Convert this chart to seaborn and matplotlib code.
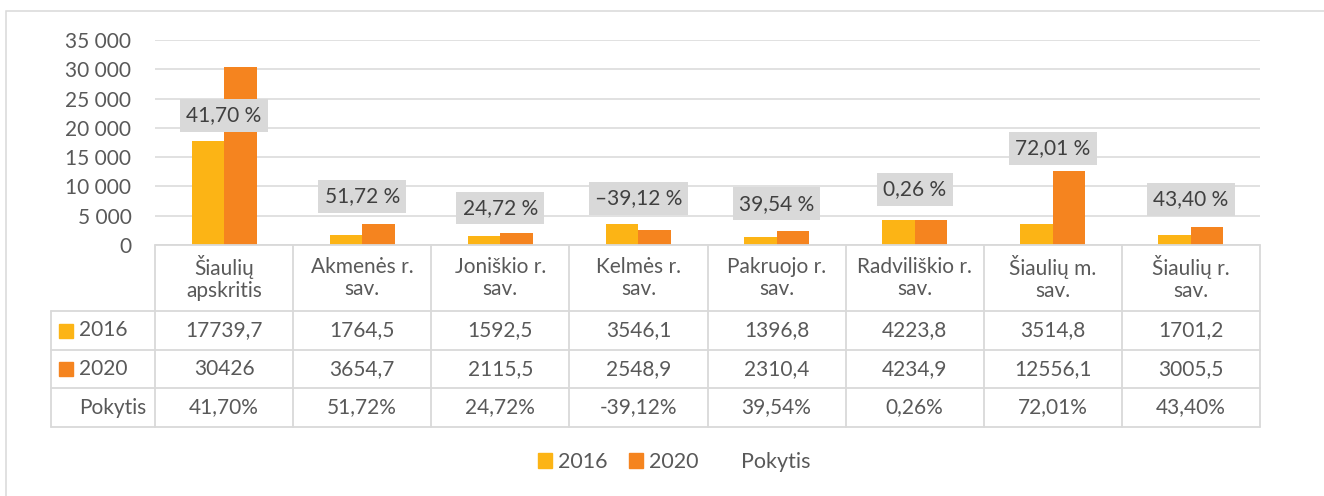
import pandas as pd
import matplotlib.pyplot as plt
import seaborn as sns
from matplotlib.patches import Patch, Rectangle

# Data
categories = ["Šiaulių\napskritis", "Akmenės r.\nsav.", "Joniškio r.\nsav.", "Kelmės r.\nsav.",
              "Pakruojo r.\nsav.", "Radviliškio r.\nsav.", "Šiaulių m.\nsav.", "Šiaulių r.\nsav."]
years = ["2016", "2020"]
values_2016 = [17739.7, 1764.5, 1592.5, 3546.1, 1396.8, 4223.8, 3514.8, 1701.2]
values_2020 = [30426, 3654.7, 2115.5, 2548.9, 2310.4, 4234.9, 12556.1, 3005.5]
pokytis = [41.70, 51.72, 24.72, -39.12, 39.54, 0.26, 72.01, 43.40]
# heights (in axis units) where the percentage labels were placed
label_y = [22100, 8280, 6320, 7940, 7050, 9510, 16510, 7800]
yticks = list(range(0, 35001, 5000))

colors = ["#FCB415", "#F5841F"]
text_col = "#595959"
grid_col = "#D9D9D9"

df = pd.DataFrame({
    "cat": categories * 2,
    "year": [years[0]] * len(categories) + [years[1]] * len(categories),
    "value": values_2016 + values_2020,
})

sns.set_theme(style="white")
plt.rcParams["font.family"] = ["Lato", "DejaVu Sans"]
FS = 15

W, H = 1324, 496
fig = plt.figure(figsize=(W / 100, H / 100), dpi=100)

# outer chart border
fig.add_artist(Rectangle((6 / W, -0.05), 1.1, 1 - 11 / H + 0.05, transform=fig.transFigure,
                         fill=False, edgecolor=grid_col, lw=1.1))

# bar axes
ax = fig.add_axes([155 / W, 1 - 245 / H, (1260 - 155) / W, (245 - 40) / H])
sns.barplot(data=df, x="cat", y="value", hue="year", palette=colors, order=categories,
            width=0.47, saturation=1, edgecolor="none", ax=ax, legend=False)
ax.set_xlim(-0.5, len(categories) - 0.5)
ax.set_ylim(0, 35000)
ax.set_yticks(yticks)
ax.set_yticklabels([f"{t:,}".replace(",", " ") for t in yticks], color=text_col, fontsize=FS)
ax.tick_params(axis="y", length=0, pad=17)
ax.set_xticks([])
ax.set_xlabel("")
ax.set_ylabel("")
for s in ax.spines.values():
    s.set_visible(False)
ax.yaxis.grid(True, color=grid_col, lw=1.1)
ax.set_axisbelow(True)

for i, (p, ly) in enumerate(zip(pokytis, label_y)):
    txt = f"{abs(p):.2f}".replace(".", ",") + " %"
    if p < 0:
        txt = "\u2013" + txt
    ax.text(i, ly, txt, ha="center", va="center", fontsize=FS, color="#404040",
            bbox=dict(boxstyle="square,pad=0.3", fc="#D9D9D9", ec="none"))

# data table below
x_left = -0.5 - (155 - 50.7) / 138.1
tax = fig.add_axes([50.7 / W, 1 - 426.7 / H, (1260 - 50.7) / W, (426.7 - 245) / H])
tax.set_xlim(x_left, len(categories) - 0.5)
tax.set_ylim(181.7, 0)
tax.axis("off")
row_edges = [0, 66, 105, 143.3, 181.7]
lk = dict(color=grid_col, lw=1.3, clip_on=False)
tax.plot([-0.5, len(categories) - 0.5], [0, 0], **lk)
for y in row_edges[1:]:
    tax.plot([x_left, len(categories) - 0.5], [y, y], **lk)
tax.plot([x_left, x_left], [66, 181.7], **lk)
for k in range(len(categories) + 1):
    tax.plot([k - 0.5, k - 0.5], [0, 181.7], **lk)


def fmt(v):
    return f"{v:g}".replace(".", ",")


row_c = [(row_edges[j] + row_edges[j + 1]) / 2 for j in range(4)]
for i, c in enumerate(categories):
    tax.text(i, row_c[0], c, ha="center", va="center", fontsize=FS, color=text_col, linespacing=1.15)
    tax.text(i, row_c[1], fmt(values_2016[i]), ha="center", va="center", fontsize=FS, color=text_col)
    tax.text(i, row_c[2], fmt(values_2020[i]), ha="center", va="center", fontsize=FS, color=text_col)
    tax.text(i, row_c[3], f"{pokytis[i]:.2f}".replace(".", ",") + "%", ha="center", va="center",
             fontsize=FS, color=text_col)

sq_x = x_left + (65.5 - 50.7) / 138.1
lab_x = x_left + (79 - 50.7) / 138.1
for j, (name, col) in enumerate(zip(years + ["Pokytis"], colors + [None])):
    if col:
        tax.plot(sq_x, row_c[j + 1], marker="s", markersize=9.5, color=col, clip_on=False)
    tax.text(lab_x, row_c[j + 1], name, ha="left", va="center", fontsize=FS, color=text_col)

# legend
handles = [Patch(color=colors[0], label="2016"), Patch(color=colors[1], label="2020"),
           Patch(fc="none", ec="none", label="Pokytis")]
fig.legend(handles=handles, loc="center", bbox_to_anchor=(674 / W, 1 - 462 / H), ncol=3, frameon=False,
           fontsize=15.5, labelcolor=text_col, handlelength=0.65, handleheight=0.65,
           handletextpad=0.3, columnspacing=1.0)

fig.savefig("out.png", dpi=100)
